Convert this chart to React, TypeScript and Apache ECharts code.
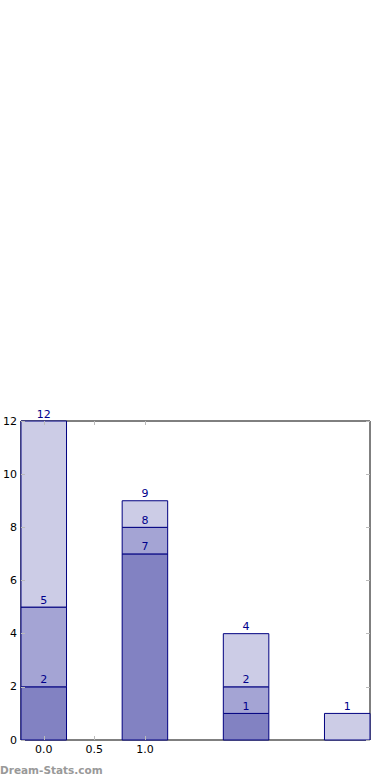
import React, { useEffect, useRef } from "react";
import * as echarts from "echarts";

const positions = [0, 1, 2, 3];
const seg1 = [2, 7, 1, 0];
const seg2 = [3, 1, 1, 0];
const seg3 = [7, 1, 2, 1];
const yTicks = [0, 2, 4, 6, 8, 10, 12];
const xTickLabels = [0, 0.5, 1.0];
const segColors = ["#8282c2", "#a4a4d4", "#cccce6"];
const barHalf = 0.225;

export default function App() {
  const ref = useRef<HTMLDivElement>(null);
  useEffect(() => {
    document.body.style.margin = "0";
    const chart = echarts.init(ref.current!, null, { renderer: "svg" });
    const segs = [seg1, seg2, seg3];
    const series: any[] = segs.map((seg, si) => {
      const data = positions.map((p, i) => {
        let base = 0;
        for (let k = 0; k < si; k++) base += segs[k][i];
        return [p, base, base + seg[i]];
      });
      return {
        type: "custom",
        xAxisIndex: 0,
        yAxisIndex: 0,
        z: 2,
        data,
        renderItem: (params: any, api: any) => {
          const x = api.value(0);
          const b = api.value(1);
          const t = api.value(2);
          if (t === b) return null;
          const p1 = api.coord([x - barHalf, t]);
          const p2 = api.coord([x + barHalf, b]);
          return {
            type: "group",
            children: [
              {
                type: "rect",
                shape: { x: p1[0], y: p1[1], width: p2[0] - p1[0], height: p2[1] - p1[1] },
                style: { fill: segColors[si], stroke: "#000080", lineWidth: 1 },
              },
              {
                type: "text",
                z2: 10,
                style: {
                  text: String(t),
                  x: (p1[0] + p2[0]) / 2,
                  y: p1[1] - 1.5,
                  align: "center",
                  verticalAlign: "bottom",
                  fill: "#00008b",
                  fontSize: 11,
                  fontFamily: "DejaVu Sans",
                },
              },
            ],
          };
        },
      };
    });
    const tickStyle = { show: true, inside: true, length: 4, lineStyle: { color: "#bbbbbb", width: 1 } };
    const noLine = { show: false, onZero: false };
    chart.setOption({
      animation: false,
      grid: {
        left: 19,
        right: 20,
        top: 421,
        bottom: 40,
        show: true,
        borderColor: "#000",
        borderWidth: 1,
        backgroundColor: "transparent",
      },
      xAxis: [
        {
          type: "value",
          min: -barHalf,
          max: 3 + barHalf,
          position: "bottom",
          z: 5,
          axisLine: noLine,
          splitLine: { show: false },
          axisTick: { ...tickStyle, customValues: xTickLabels },
          axisLabel: {
            customValues: xTickLabels,
            formatter: (v: number) => v.toFixed(1),
            color: "#000",
            fontSize: 11,
            fontFamily: "DejaVu Sans",
            margin: 4,
          },
        },
        {
          type: "value",
          min: -barHalf,
          max: 3 + barHalf,
          position: "top",
          z: 5,
          axisLine: noLine,
          splitLine: { show: false },
          axisTick: { ...tickStyle, customValues: xTickLabels },
          axisLabel: { show: false },
        },
      ],
      yAxis: [
        {
          type: "value",
          min: 0,
          max: 12,
          interval: 2,
          position: "left",
          z: 5,
          axisLine: noLine,
          splitLine: { show: false },
          axisTick: { ...tickStyle, customValues: yTicks },
          axisLabel: {
            customValues: yTicks,
            color: "#000",
            fontSize: 11,
            fontFamily: "DejaVu Sans",
            margin: 4,
          },
        },
        {
          type: "value",
          min: 0,
          max: 12,
          interval: 2,
          position: "right",
          z: 5,
          axisLine: noLine,
          splitLine: { show: false },
          axisTick: { ...tickStyle, customValues: yTicks },
          axisLabel: { show: false },
        },
      ],
      graphic: [
        {
          type: "text",
          left: 0,
          top: 764,
          style: {
            text: "Dream-Stats.com",
            fill: "#999999",
            fontSize: 10.5,
            fontWeight: "bold",
            fontFamily: "DejaVu Sans",
          },
        },
      ],
      series,
    });
    return () => chart.dispose();
  }, []);
  return <div ref={ref} style={{ width: 390, height: 780 }} />;
}
